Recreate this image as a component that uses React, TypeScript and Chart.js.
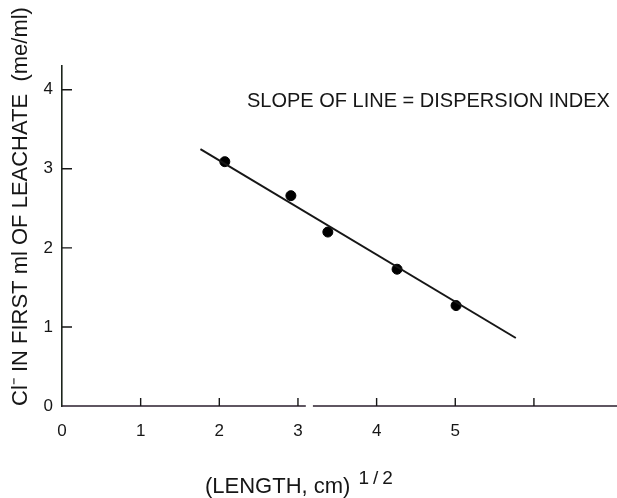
import React, { useEffect, useRef } from "react";
import { Chart, registerables } from "chart.js";

Chart.register(...registerables);

// Measured points: x = (LENGTH, cm)^1/2, y = Cl- in first ml of leachate (me/ml)
const pointX = [2.07, 2.91, 3.38, 4.26, 5.01];
const pointY = [3.09, 2.66, 2.2, 1.73, 1.27];
// Fitted line end points
const lineX = [1.76, 5.77];
const lineY = [3.25, 0.86];
// Axis tick values
const xTickMarks = [1, 2, 3, 4, 5, 6];
const xLabelled = [0, 1, 2, 3, 4, 5];
const yTickMarks = [1, 2, 3, 4];
const yLabelled = [0, 1, 2, 3, 4];

const xTitle = "(LENGTH, cm)";
const xTitleSup = "1/2";
const yTitle = "Cl\u207B IN FIRST ml OF LEACHATE  (me/ml)";
const note = "SLOPE OF LINE = DISPERSION INDEX";

const FONT = "'Liberation Sans', Arial, sans-serif";
const INK = "#161616";

const decorPlugin = {
  id: "decor",
  afterDraw(chart: any) {
    const ctx = chart.ctx;
    const xs = chart.scales.x;
    const ys = chart.scales.y;
    const area = chart.chartArea;
    ctx.save();
    // x axis line with the small break seen in the scan
    ctx.strokeStyle = "#2b1f2e";
    ctx.lineWidth = 1.6;
    ctx.beginPath();
    ctx.moveTo(xs.getPixelForValue(0), area.bottom);
    ctx.lineTo(xs.getPixelForValue(3.1), area.bottom);
    ctx.moveTo(xs.getPixelForValue(3.19), area.bottom);
    ctx.lineTo(chart.width, area.bottom);
    ctx.stroke();
    // inward tick marks
    ctx.strokeStyle = INK;
    ctx.lineWidth = 1.4;
    ctx.beginPath();
    xTickMarks.forEach((v) => {
      const px = xs.getPixelForValue(v);
      ctx.moveTo(px, area.bottom);
      ctx.lineTo(px, area.bottom - 8);
    });
    yTickMarks.forEach((v) => {
      const py = ys.getPixelForValue(v);
      ctx.moveTo(area.left, py);
      ctx.lineTo(area.left + 10, py);
    });
    ctx.stroke();
    // annotation
    ctx.fillStyle = INK;
    ctx.textBaseline = "middle";
    ctx.textAlign = "left";
    ctx.font = `20px ${FONT}`;
    ctx.fillText(note, 247, 101);
    // x title with superscript
    ctx.font = `22px ${FONT}`;
    ctx.fillText(xTitle, 205, 487);
    const w = ctx.measureText(xTitle).width;
    ctx.font = `19px ${FONT}`;
    (ctx as any).letterSpacing = "4px";
    ctx.fillText(xTitleSup, 205 + w + 8, 479);
    (ctx as any).letterSpacing = "0px";
    ctx.restore();
  },
};

export default function App() {
  const ref = useRef<HTMLCanvasElement | null>(null);
  useEffect(() => {
    if (!ref.current) return;
    const chart = new Chart(ref.current, {
      type: "scatter",
      data: {
        datasets: [
          {
            label: "fit",
            data: lineX.map((x, i) => ({ x, y: lineY[i] })),
            showLine: true,
            borderColor: INK,
            borderWidth: 2,
            pointRadius: 0,
          },
          {
            label: "points",
            data: pointX.map((x, i) => ({ x, y: pointY[i] })),
            pointRadius: 5,
            pointBackgroundColor: "#000",
            pointBorderColor: "#000",
            showLine: false,
          },
        ],
      },
      options: {
        responsive: false,
        animation: false,
        layout: { padding: { top: 66, right: 0, left: 0, bottom: 0 } },
        plugins: { legend: { display: false }, tooltip: { enabled: false } },
        scales: {
          x: {
            type: "linear",
            min: 0,
            max: 6.98,
            grid: { display: false, drawTicks: false },
            border: { display: false },
            afterFit: (s: any) => {
              s.height = 92;
              s.paddingLeft = 0;
              s.paddingRight = 0;
            },
            ticks: {
              stepSize: 1,
              includeBounds: false,
              padding: 15,
              color: INK,
              font: { family: FONT, size: 17 },
              callback: (v: any) => (xLabelled.includes(v) ? String(v) : ""),
            },
          },
          y: {
            type: "linear",
            min: 0,
            max: 4.3,
            grid: { display: false, drawTicks: false },
            border: { display: true, color: "#1b241b", width: 1.6 },
            afterFit: (s: any) => {
              s.width = 62;
            },
            title: {
              display: true,
              text: yTitle,
              align: "start",
              color: INK,
              font: { family: FONT, size: 22 },
              padding: { top: 8, bottom: 0 },
            },
            ticks: {
              stepSize: 1,
              includeBounds: false,
              padding: 9,
              color: INK,
              font: { family: FONT, size: 17 },
              callback: (v: any) => (yLabelled.includes(v) ? String(v) : ""),
            },
          },
        },
      },
      plugins: [decorPlugin],
    });
    return () => chart.destroy();
  }, []);
  return (
    <div
      style={{
        position: "fixed",
        left: 0,
        top: 0,
        width: 617,
        height: 498,
        background: "#fff",
      }}
    >
      <canvas ref={ref} width={617} height={498} style={{ width: 617, height: 498 }} />
    </div>
  );
}
